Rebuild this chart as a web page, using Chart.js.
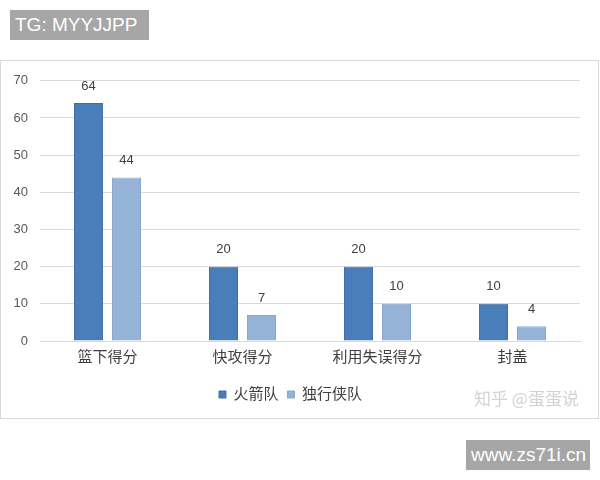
<!DOCTYPE html>
<html lang="zh">
<head>
<meta charset="UTF-8">
<title>得分对比</title>
<script src="https://cdn.jsdelivr.net/npm/chart.js"></script>
<style>
    body { margin: 0; background: #fff; width: 600px; height: 480px; position: relative; overflow: hidden;
           font-family: 'Liberation Sans', 'Noto Sans CJK SC', sans-serif; }
    .tag { position: absolute; background: #a6a6a6; color: #fff; font-size: 19px; line-height: 30px; padding: 0 5px; }
    #tagTop { left: 10px; top: 10px; width: 129px; }
    #tagBottom { left: 466px; top: 440px; width: 114px; }
    #box { position: absolute; left: 0; top: 60px; width: 597px; height: 357px; border: 1px solid #d9d9d9; }
    #mark { position: absolute; left: 474px; top: 385px; color: #d2d2d2; font-size: 17px; font-family: 'Noto Sans CJK SC', sans-serif; }
</style>
</head>
<body>
<div class="tag" id="tagTop">TG: MYYJJPP</div>
<div id="box"><canvas id="chart" width="597" height="357"></canvas></div>
<div id="mark">知乎 @蛋蛋说</div>
<div class="tag" id="tagBottom">www.zs71i.cn</div>

<script>
    const categories = ['篮下得分', '快攻得分', '利用失误得分', '封盖'];
    const rockets = [64, 20, 20, 10];
    const mavericks = [44, 7, 10, 4];
    const seriesNames = ['火箭队', '独行侠队'];
    const yMax = 70;
    const yStep = 10;

    const fontFamily = "'Liberation Sans', 'Noto Sans CJK SC', sans-serif";

    // draw the value above each bar
    const valueLabels = {
        id: 'valueLabels',
        afterDatasetsDraw(chart) {
            const ctx = chart.ctx;
            ctx.save();
            ctx.font = '13px ' + fontFamily;
            ctx.fillStyle = '#404040';
            ctx.textAlign = 'center';
            ctx.textBaseline = 'middle';
            chart.data.datasets.forEach((ds, i) => {
                chart.getDatasetMeta(i).data.forEach((bar, j) => {
                    ctx.fillText(ds.data[j], bar.x, bar.y - 17);
                });
            });
            ctx.restore();
        }
    };

    new Chart(document.getElementById('chart'), {
        type: 'bar',
        data: {
            labels: categories,
            datasets: [
                {
                    label: seriesNames[0],
                    data: rockets,
                    backgroundColor: '#4a7ebb',
                    borderColor: '#3f6fa6',
                    borderWidth: 1,
                    categoryPercentage: 0.563,
                    barPercentage: 0.763
                },
                {
                    label: seriesNames[1],
                    data: mavericks,
                    backgroundColor: '#95b3d7',
                    borderColor: '#87a6cc',
                    borderWidth: 1,
                    categoryPercentage: 0.563,
                    barPercentage: 0.763
                }
            ]
        },
        options: {
            responsive: false,
            animation: false,
            layout: { padding: { top: 18, right: 18, bottom: 6, left: 0 } },
            plugins: {
                legend: {
                    position: 'bottom',
                    labels: {
                        boxWidth: 7,
                        boxHeight: 7,
                        padding: 9,
                        color: '#404040',
                        font: { size: 15, family: fontFamily }
                    }
                },
                tooltip: { enabled: false }
            },
            scales: {
                x: {
                    grid: { display: false },
                    border: { display: true, color: '#d9d9d9' },
                    ticks: { color: '#404040', font: { size: 15, family: fontFamily }, padding: 0 },
                    afterFit(axis) { axis.height = 37; }
                },
                y: {
                    min: 0,
                    max: yMax,
                    ticks: { stepSize: yStep, color: '#595959', font: { size: 13, family: fontFamily }, padding: 12 },
                    grid: { color: '#d9d9d9', drawTicks: false },
                    border: { display: false },
                    afterFit(axis) { axis.width = 39; }
                }
            }
        },
        plugins: [valueLabels]
    });
</script>
</body>
</html>
